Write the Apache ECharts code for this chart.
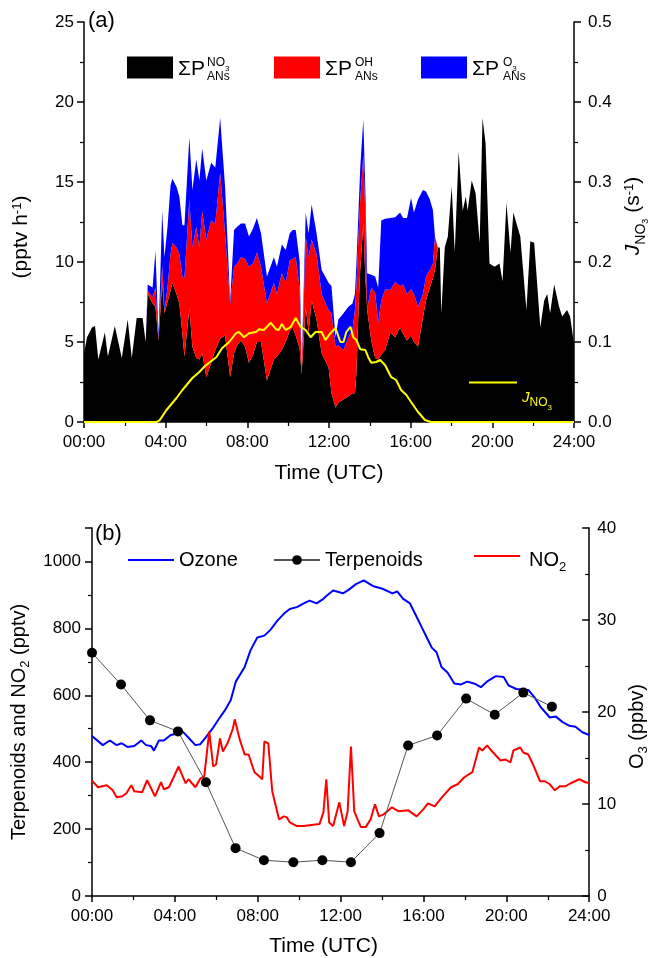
<!DOCTYPE html>
<html>
<head>
<meta charset="utf-8">
<script src="https://cdn.jsdelivr.net/npm/echarts/dist/echarts.min.js"></script>
<style>html,body{margin:0;padding:0;background:#fff}#c{width:658px;height:958px}</style>
</head>
<body>
<div id="c"></div>
<script>
const FONT = '"Liberation Sans", Arial, Helvetica, sans-serif';

// ---------- Panel (a): production rates of ANs (pptv h-1), stacked ----------
const timeA = [0,0.15,0.39,0.54,0.70,1.02,1.17,1.51,1.85,2.14,2.34,2.58,2.87,3.02,
  3.12,3.36,3.50,3.65,3.83,3.94,4.09,4.24,4.33,4.53,4.67,4.82,4.92,5.16,5.31,5.50,5.65,5.79,5.99,6.23,
  6.43,6.67,6.91,7.16,7.35,7.50,7.69,7.89,8.08,8.28,8.47,8.67,8.96,9.30,9.45,9.69,9.88,10.08,10.22,10.37,
  10.56,10.66,10.86,11.00,11.15,11.39,11.64,11.98,12.12,12.32,12.46,12.71,12.95,13.15,13.27,13.34,13.44,
  13.53,13.68,13.78,13.87,14.07,14.26,14.41,14.56,14.75,15.00,15.24,15.48,15.63,15.82,16.02,16.16,16.36,
  16.60,16.75,16.94,17.09,17.19,17.33,
  17.43,17.50,17.67,17.82,18.01,18.16,18.35,18.55,18.70,18.79,18.99,19.18,19.38,19.52,19.67,19.86,20.11,
  20.35,20.50,20.69,20.89,21.03,21.23,21.37,21.67,21.86,22.05,22.35,22.54,22.69,22.83,23.03,23.27,23.42,
  23.66,23.81,24.00];
const pNO3 = [4.3,5.3,5.9,6.0,3.9,5.6,4.1,6.0,4.0,6.4,4.0,6.5,6.5,5.0,
  8.0,7.4,7.2,5.1,8.7,6.8,7.5,8.2,8.7,8.0,7.4,5.5,4.1,7.1,4.7,4.0,3.9,4.3,2.8,3.7,
  4.5,5.2,5.4,2.8,4.3,4.8,5.1,4.7,3.7,4.2,5.0,5.0,2.6,3.9,4.1,4.5,5.0,5.7,5.9,5.4,
  4.6,3.0,7.2,5.6,7.6,6.4,4.3,3.4,1.8,0.9,1.2,1.4,1.6,1.8,1.8,3.0,6.8,
  9.5,12.4,9.0,7.0,5.1,4.0,3.9,4.2,4.5,5.6,5.3,5.9,5.5,5.1,5.4,5.0,4.7,
  6.5,7.6,8.4,9.0,9.5,10.9,
  10.9,6.8,10.9,11.6,14.7,10.6,16.9,13.2,14.1,13.2,15.1,14.3,11.2,19.0,17.4,9.9,9.7,
  9.9,8.8,13.7,10.6,13.1,12.2,11.6,7.0,11.3,11.2,5.9,7.6,8.0,6.8,8.6,7.2,6.6,
  7.0,6.6,4.9];
const pOH = [0,0,0,0,0,0,0,0,0,0,0,0,0,0,
  0.2,0.4,1.2,0.1,1.1,0.2,0.9,2.3,2.5,2.9,3.1,3.6,4.9,6.8,6.2,8.2,7.0,8.9,8.6,8.9,
  7.9,10.4,6.4,4.6,5.4,5.1,5.2,5.5,6.0,5.7,5.6,4.7,4.8,4.8,3.9,4.8,3.7,4.4,4.3,4.9,
  3.8,0.2,4.4,4.7,3.8,4.1,3.7,3.6,5.0,3.8,3.6,3.1,3.7,3.95,5.2,5.4,4.7,
  4.4,4.3,4.0,0.1,3.3,4.1,2.3,3.4,3.8,2.65,3.45,2.6,3.1,2.9,2.9,3.0,2.5,
  1.5,1.5,1.1,0.9,2.1,0,
  0,0,0,0,0,0,0,0,0,0,0,0,0,0,0,0,0,
  0,0,0,0,0,0,0,0,0,0,0,0,0,0,0,0,0,
  0,0,0];
const pO3 = [0,0,0,0,0,0,0,0,0,0,0,0,0,0,
  0.4,0.6,2.3,0.2,3.4,3.3,3.8,4.3,4.0,3.8,3.6,3.2,3.3,3.9,3.6,4.2,4.2,3.9,3.7,3.6,
  3.5,3.4,2.9,0.2,2.3,2.3,2.1,2.2,1.9,2.2,2.15,2.1,1.7,1.6,1.7,1.8,2.05,1.7,1.8,1.7,
  1.7,0.3,1.5,1.5,2.2,1.3,1.5,1.7,1.7,0.6,1.6,2.3,1.9,1.65,1.0,1.4,1.5,
  2.0,2.2,1.5,2.2,0.8,1.0,2.2,5.0,4.4,4.5,4.05,4.6,4.15,4.75,5.7,5.1,6.7,
  6.5,5.3,4.4,3.35,0,0,
  0,0,0,0,0,0,0,0,0,0,0,0,0,0,0,0,0,
  0,0,0,0,0,0,0,0,0,0,0,0,0,0,0,0,0,
  0,0,0];

// J(NO3) photolysis frequency (s-1), right axis
const timeJ = [0,3.55,3.70,4.04,4.53,4.82,5.31,5.65,5.89,6.13,6.48,6.77,7.11,7.45,7.59,7.84,8.08,8.42,8.57,8.81,
  9.15,9.40,9.54,9.69,9.88,10.13,10.37,10.61,10.86,11.10,11.34,11.64,11.83,12.07,12.32,12.56,12.71,12.85,
  13.05,13.19,13.34,13.53,13.78,13.92,14.07,14.31,14.51,14.75,15.05,15.29,15.53,15.78,16.02,16.36,16.70,16.99,24];
const jNO3 = [0,0,0.002,0.015,0.030,0.040,0.055,0.0625,0.069,0.074,0.081,0.0925,0.100,0.111,0.1125,0.106,0.111,
  0.1125,0.116,0.115,0.124,0.116,0.115,0.1225,0.115,0.119,0.130,0.119,0.115,0.106,0.1125,0.1125,0.1025,0.111,
  0.1175,0.100,0.100,0.1125,0.119,0.106,0.1025,0.091,0.090,0.081,0.074,0.075,0.0775,0.071,0.056,0.0525,0.040,
  0.034,0.025,0.0125,0.0025,0,0];

// ---------- Panel (b) ----------
const timeOzone = [0,0.52,0.86,1.19,1.43,1.71,2.04,2.38,2.61,2.85,2.99,3.23,3.47,3.80,4.18,4.37,4.66,4.99,5.23,5.51,
  5.85,6.08,6.42,6.70,6.94,7.37,7.65,7.98,8.32,8.60,8.94,9.27,9.55,9.89,10.22,10.50,10.84,11.17,11.31,11.64,
  12.12,12.40,12.74,13.12,13.55,14.02,14.50,14.73,15.02,15.35,15.68,15.92,16.16,16.40,16.63,16.87,17.16,17.49,
  17.82,18.11,18.44,18.77,19.06,19.49,19.87,20.10,20.48,21.06,21.39,21.67,22.10,22.39,22.72,23.05,23.34,23.67,24.0];
const ozone = [17.4,16.4,16.9,16.4,16.6,16.2,16.3,16.9,16.4,16.3,15.8,16.9,16.9,17.5,17.7,17.9,17.2,16.4,16.5,17.3,
  18.3,19.1,20.2,21.3,23.3,24.9,26.7,28.1,28.3,28.9,29.9,30.7,31.2,31.4,31.8,32.1,31.8,32.3,32.6,33.2,
  32.9,33.3,33.9,34.3,33.7,33.4,32.9,33.1,32.3,31.8,30.3,29.2,28.1,27.0,26.5,24.9,24.3,23.1,
  23.0,23.3,23.1,22.7,23.3,23.9,23.8,22.9,22.5,22.4,21.5,20.5,19.4,19.5,18.9,18.5,18.4,17.8,17.5];

const timeNO2 = [0,0.29,0.71,1.00,1.19,1.47,1.66,1.90,2.04,2.42,2.66,3.04,3.33,3.47,3.71,3.94,4.18,4.33,4.52,4.66,
  4.99,5.23,5.42,5.66,5.85,5.99,6.18,6.32,6.56,6.80,6.89,7.13,7.37,7.56,7.84,8.03,8.22,8.32,8.51,8.70,
  9.03,9.27,9.41,9.55,9.89,10.22,10.60,10.98,11.17,11.31,11.45,11.64,11.94,12.17,12.34,12.50,12.66,12.82,12.98,13.21,
  13.45,13.66,13.85,14.08,14.48,14.80,15.27,15.67,15.99,16.22,16.54,16.93,17.33,17.65,17.97,18.36,18.68,18.84,19.07,19.23,
  19.72,19.96,20.20,20.34,20.67,20.82,21.06,21.29,21.63,21.86,22.10,22.34,22.58,22.86,23.10,23.53,23.81,24.00];
const no2 = [345,325,331,316,295,298,307,331,313,310,346,298,340,319,325,355,387,364,337,349,
  325,351,358,492,387,393,471,432,459,500,528,468,423,423,370,360,349,462,456,313,
  229,238,235,220,209,209,212,215,250,349,220,209,280,209,253,447,253,229,206,206,
  229,274,238,244,265,253,256,238,259,277,268,298,325,334,355,370,444,435,450,438,
  405,408,399,435,444,429,423,393,343,343,334,316,328,328,337,349,340,338];

const timeTerp = [0,1.40,2.80,4.15,5.50,6.93,8.30,9.72,11.12,12.50,13.88,15.26,16.66,18.06,19.44,20.82,22.20];
const terpenoids = [727,632,525,492,340,143,107,101,107,101,188,450,480,590,542,608,566];

// tick labels
const xTickLabels = ['00:00','04:00','08:00','12:00','16:00','20:00','24:00'];
const yTickLabelsJ = ['0.0','0.1','0.2','0.3','0.4','0.5'];

// value first, time second (encode y:0, x:1) so that stacking acts on the value
const vt = (t, v) => t.map((x, i) => [v[i], x]);

function makeRich(fs, color) {
  color = color || '#000';
  return {
    b:   {fontSize: fs, lineHeight: fs + 2, verticalAlign: 'top', fontFamily: FONT, color: color},
    it:  {fontSize: fs, lineHeight: fs + 2, verticalAlign: 'top', fontFamily: FONT, color: color, fontStyle: 'italic'},
    sup: {fontSize: Math.round(fs * 0.62), lineHeight: Math.round(fs * 0.62), verticalAlign: 'top', fontFamily: FONT, color: color},
    sub: {fontSize: Math.round(fs * 0.65), lineHeight: Math.round(fs * 0.65), verticalAlign: 'top', fontFamily: FONT, color: color,
          padding: [Math.round(fs * 0.5), 0, 0, 0]},
    sub2:{fontSize: Math.round(fs * 0.43), lineHeight: Math.round(fs * 0.43), verticalAlign: 'top', fontFamily: FONT, color: color,
          padding: [Math.round(fs * 0.85), 0, 0, 0]}
  };
}

const lineAx = {show: true, onZero: false, lineStyle: {color: '#000', width: 1.5}};
function tickCfg(inside, len) { return {show: true, inside: inside, length: len, lineStyle: {color: '#000', width: 1.5}}; }
function minorCfg(len) { return {show: true, splitNumber: 2, length: len, lineStyle: {color: '#000', width: 1.2}}; }

const chart = echarts.init(document.getElementById('c'), null, {renderer: 'canvas'});

const areaSeries = (name, vals, color) => ({
  name: name, type: 'line', xAxisIndex: 0, yAxisIndex: 0, stack: 'P',
  data: vt(timeA, vals), encode: {x: 1, y: 0},
  symbol: 'none', showSymbol: false, lineStyle: {width: 0, opacity: 0}, itemStyle: {color: color},
  areaStyle: {color: color, opacity: 1}, emphasis: {disabled: true}, z: 2
});
const lineSeries = (name, xi, yi, t, v, extra) => Object.assign({
  name: name, type: 'line', xAxisIndex: xi, yAxisIndex: yi, data: vt(t, v), encode: {x: 1, y: 0},
  emphasis: {disabled: true}
}, extra);

const option = {
  animation: false,
  backgroundColor: '#fff',
  textStyle: {fontFamily: FONT, color: '#000'},
  grid: [
    {left: 84, right: 81, top: 22, height: 400},
    {left: 92, right: 61, top: 528, height: 369}
  ],
  xAxis: [
    {gridIndex: 0, type: 'value', min: 0, max: 24, interval: 4,
     axisLine: lineAx, axisTick: tickCfg(false, 6), minorTick: minorCfg(4),
     splitLine: {show: false}, minorSplitLine: {show: false},
     axisLabel: {fontSize: 17, color: '#000', margin: 12, fontFamily: FONT, formatter: v => xTickLabels[Math.round(v / 4)]},
     name: 'Time (UTC)', nameLocation: 'middle', nameGap: 41,
     nameTextStyle: {fontSize: 21, color: '#000', fontFamily: FONT}},
    {gridIndex: 1, type: 'value', min: 0, max: 24, interval: 4,
     axisLine: lineAx, axisTick: tickCfg(false, 6), minorTick: minorCfg(4),
     splitLine: {show: false}, minorSplitLine: {show: false},
     axisLabel: {fontSize: 17, color: '#000', margin: 12, fontFamily: FONT, formatter: v => xTickLabels[Math.round(v / 4)]},
     name: 'Time (UTC)', nameLocation: 'middle', nameGap: 40,
     nameTextStyle: {fontSize: 21, color: '#000', fontFamily: FONT, padding: [0, 34, 0, 0]}}
  ],
  yAxis: [
    {gridIndex: 0, type: 'value', position: 'left', min: 0, max: 25, interval: 5,
     axisLine: lineAx, axisTick: tickCfg(false, 7), minorTick: minorCfg(4),
     splitLine: {show: false}, minorSplitLine: {show: false},
     axisLabel: {fontSize: 17, color: '#000', margin: 10, fontFamily: FONT},
     name: '{b|(pptv h}{sup|-1}{b|)}', nameLocation: 'middle', nameRotate: 90, nameGap: 50,
     nameTextStyle: {rich: makeRich(21), padding: [0, 30, 0, 0]}},
    {gridIndex: 0, type: 'value', position: 'right', min: 0, max: 0.5, interval: 0.1,
     axisLine: lineAx, axisTick: tickCfg(false, 7), minorTick: minorCfg(4),
     splitLine: {show: false}, minorSplitLine: {show: false},
     axisLabel: {fontSize: 17, color: '#000', margin: 14, fontFamily: FONT, formatter: v => yTickLabelsJ[Math.round(v * 10)]},
     name: '{it|J}{sub|NO}{sub2|3}{b| (s}{sup|-1}{b|)}', nameLocation: 'middle', nameRotate: 90, nameGap: 49,
     nameTextStyle: {rich: makeRich(21), padding: [0, 0, 0, 12]}},
    {gridIndex: 1, type: 'value', position: 'left', min: 0, max: 1100, interval: 200,
     axisLine: lineAx, axisTick: tickCfg(false, 7), minorTick: minorCfg(4),
     splitLine: {show: false}, minorSplitLine: {show: false},
     axisLabel: {fontSize: 17, color: '#000', margin: 11, fontFamily: FONT, showMaxLabel: false, formatter: v => String(v)},
     name: '{b|Terpenoids and NO}{sub|2}{b| (pptv)}', nameLocation: 'middle', nameRotate: 90, nameGap: 57,
     nameTextStyle: {rich: makeRich(20), padding: [0, 20, 0, 0]}},
    {gridIndex: 1, type: 'value', position: 'right', min: 0, max: 40, interval: 10,
     axisLine: lineAx, axisTick: tickCfg(true, 7), minorTick: minorCfg(4),
     splitLine: {show: false}, minorSplitLine: {show: false},
     axisLabel: {fontSize: 17, color: '#000', margin: 8, fontFamily: FONT},
     name: '{b|O}{sub|3}{b| (ppbv)}', nameLocation: 'middle', nameRotate: 90, nameGap: 34,
     nameTextStyle: {rich: makeRich(20), padding: [0, 29, 0, 0]}}
  ],
  legend: [
    {data: ['PNO3'], left: 127, top: 55, padding: 0, icon: 'rect', itemWidth: 46, itemHeight: 22, selectedMode: false, z: 20,
     formatter: () => '{m|ΣP}', textStyle: {rich: {m: {fontSize: 21, lineHeight: 22, padding: [4, 0, 0, 0], fontFamily: FONT, color: '#000'}}}},
    {data: ['POH'], left: 274, top: 55, padding: 0, icon: 'rect', itemWidth: 46, itemHeight: 22, selectedMode: false, z: 20,
     formatter: () => '{m|ΣP}', textStyle: {rich: {m: {fontSize: 21, lineHeight: 22, padding: [4, 0, 0, 0], fontFamily: FONT, color: '#000'}}}},
    {data: ['PO3'], left: 421, top: 55, padding: 0, icon: 'rect', itemWidth: 46, itemHeight: 22, selectedMode: false, z: 20,
     formatter: () => '{m|ΣP}', textStyle: {rich: {m: {fontSize: 21, lineHeight: 22, padding: [4, 0, 0, 0], fontFamily: FONT, color: '#000'}}}},
    {data: ['JNO3'], left: 469, top: 375, padding: 0, icon: 'rect', itemWidth: 48, itemHeight: 2, selectedMode: false, z: 20,
     formatter: () => '{j|J}{s|NO}{t|3}',
     textStyle: {rich: {
       j: {fontSize: 15, lineHeight: 15, verticalAlign: 'top', padding: [15, 0, 0, 0], fontStyle: 'italic', fontFamily: FONT, color: '#ffff00'},
       s: {fontSize: 12, lineHeight: 12, verticalAlign: 'top', padding: [22, 0, 0, 0], fontFamily: FONT, color: '#ffff00'},
       t: {fontSize: 8, lineHeight: 8, verticalAlign: 'top', padding: [29, 0, 0, 0], fontFamily: FONT, color: '#ffff00'}}}},
    {data: ['Ozone'], left: 128, top: 550, padding: 0, icon: 'rect', itemWidth: 46, itemHeight: 2, selectedMode: false,
     textStyle: {fontSize: 20, color: '#000', fontFamily: FONT}},
    {data: ['Terpenoids'], left: 273, top: 550, padding: 0, itemWidth: 46, itemHeight: 12, selectedMode: false,
     textStyle: {fontSize: 20, color: '#000', fontFamily: FONT}},
    {data: ['NO2'], left: 474, top: 546, padding: 0, icon: 'rect', itemWidth: 46, itemHeight: 2, selectedMode: false,
     formatter: () => '{b|NO}{s|2}',
     textStyle: {rich: {
       b: {fontSize: 20, lineHeight: 20, verticalAlign: 'top', padding: [4, 0, 0, 4], fontFamily: FONT, color: '#000'},
       s: {fontSize: 13, lineHeight: 13, verticalAlign: 'top', padding: [15, 0, 0, 0], fontFamily: FONT, color: '#000'}}}}
  ],
  graphic: [
    {type: 'text', z: 100, left: 88, top: 10, style: {text: '(a)', fontSize: 22, fontFamily: FONT, fill: '#000'}},
    {type: 'text', z: 100, left: 95, top: 523, style: {text: '(b)', fontSize: 22, fontFamily: FONT, fill: '#000'}},
    {type: 'text', z: 100, left: 207, top: 57, style: {text: '{a|NO}{b|3}', rich: {
       a: {fontSize: 12, lineHeight: 12, verticalAlign: 'top', fontFamily: FONT, fill: '#000'},
       b: {fontSize: 8, lineHeight: 8, verticalAlign: 'top', padding: [8, 0, 0, 0], fontFamily: FONT, fill: '#000'}}}},
    {type: 'text', z: 100, left: 207, top: 71, style: {text: 'ANs', fontSize: 12, fontFamily: FONT, fill: '#000'}},
    {type: 'text', z: 100, left: 355, top: 57, style: {text: 'OH', fontSize: 12, fontFamily: FONT, fill: '#000'}},
    {type: 'text', z: 100, left: 355, top: 71, style: {text: 'ANs', fontSize: 12, fontFamily: FONT, fill: '#000'}},
    {type: 'text', z: 100, left: 503, top: 57, style: {text: '{a|O}{b|3}', rich: {
       a: {fontSize: 12, lineHeight: 12, verticalAlign: 'top', fontFamily: FONT, fill: '#000'},
       b: {fontSize: 8, lineHeight: 8, verticalAlign: 'top', padding: [8, 0, 0, 0], fontFamily: FONT, fill: '#000'}}}},
    {type: 'text', z: 100, left: 503, top: 71, style: {text: 'ANs', fontSize: 12, fontFamily: FONT, fill: '#000'}}
  ],
  series: [
    areaSeries('PNO3', pNO3, '#000000'),
    areaSeries('POH', pOH, '#ff0000'),
    areaSeries('PO3', pO3, '#0000ff'),
    lineSeries('JNO3', 0, 1, timeJ, jNO3, {symbol: 'none', showSymbol: false,
      lineStyle: {color: '#ffff00', width: 2}, itemStyle: {color: '#ffff00'}, z: 4}),
    lineSeries('Ozone', 1, 3, timeOzone, ozone, {symbol: 'none', showSymbol: false,
      lineStyle: {color: '#0000ff', width: 2}, itemStyle: {color: '#0000ff'}, z: 3}),
    lineSeries('NO2', 1, 2, timeNO2, no2, {symbol: 'none', showSymbol: false,
      lineStyle: {color: '#ff0000', width: 2}, itemStyle: {color: '#ff0000'}, z: 3}),
    lineSeries('Terpenoids', 1, 2, timeTerp, terpenoids, {symbol: 'circle', symbolSize: 10, showSymbol: true,
      lineStyle: {color: '#555555', width: 1}, itemStyle: {color: '#000000'}, z: 4})
  ]
};
chart.setOption(option);
</script>
</body>
</html>
